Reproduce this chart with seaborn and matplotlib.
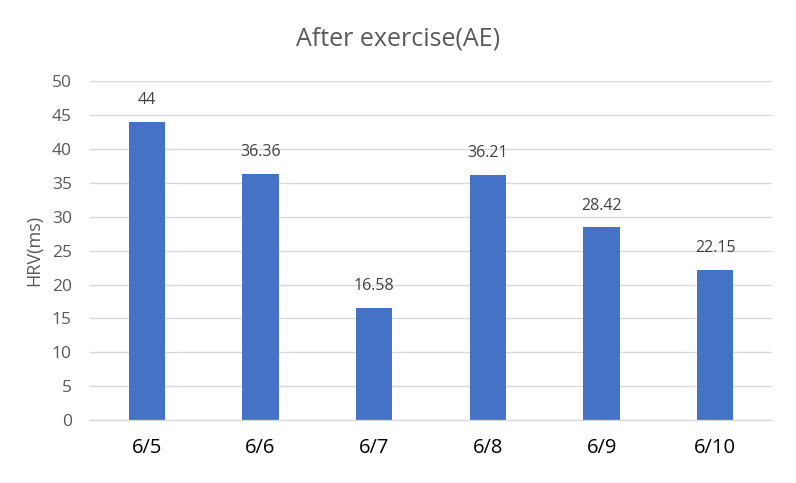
import matplotlib
matplotlib.use("Agg")
import matplotlib.pyplot as plt
import seaborn as sns
import pandas as pd

dates = ["6/5", "6/6", "6/7", "6/8", "6/9", "6/10"]
hrv = [44, 36.36, 16.58, 36.21, 28.42, 22.15]
labels = ["44", "36.36", "16.58", "36.21", "28.42", "22.15"]
yticks = [0, 5, 10, 15, 20, 25, 30, 35, 40, 45, 50]

sns.set_style("white")
plt.rcParams['font.family'] = ['Open Sans', 'DejaVu Sans']

df = pd.DataFrame({"date": dates, "hrv": hrv})
fig = plt.figure(figsize=(7.96, 4.83), dpi=100)
ax = fig.add_axes([0.113, 0.130, 0.857, 0.702])
sns.barplot(data=df, x="date", y="hrv", color="#4472C4", width=0.32, ax=ax,
            saturation=1, linewidth=0)

for i, (v, t) in enumerate(zip(hrv, labels)):
    ax.text(i, v + 2.0, t, ha="center", va="bottom", fontsize=11.5, color="#404040")

ax.set_ylim(0, 50)
ax.set_xlim(-0.5, len(dates) - 0.5)
ax.set_yticks(yticks)
ax.set_yticklabels([str(y) for y in yticks], fontsize=12.5, color="#595959")
ax.yaxis.grid(True, color="#d9d9d9", linewidth=1)
ax.set_axisbelow(True)
ax.tick_params(axis="y", length=0, pad=13)
ax.tick_params(axis="x", length=0, labelsize=14.5, labelcolor="#000000", pad=13)
ax.set_xticks(range(len(dates)), minor=False)
ax.set_xticks([i - 0.5 for i in range(len(dates) + 1)], minor=True)
ax.tick_params(axis="x", which="minor", length=5, color="#d9d9d9", width=1)
for s in ["top", "right", "left"]:
    ax.spines[s].set_visible(False)
ax.spines["bottom"].set_color("#d9d9d9")
ax.spines["bottom"].set_linewidth(1)
ax.set_xlabel("")
ax.set_ylabel("HRV(ms)", fontsize=13, color="#595959", labelpad=6)
fig.suptitle("After exercise(AE)", fontsize=18, color="#595959", y=0.945)
fig.savefig("out.png", dpi=100)
